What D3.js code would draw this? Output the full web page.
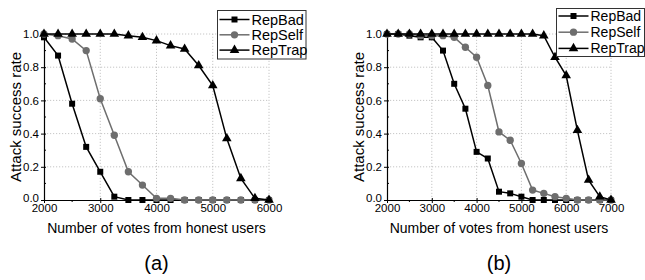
<!DOCTYPE html>
<html>
<head>
<meta charset="utf-8">
<script src="https://cdn.jsdelivr.net/npm/d3@7"></script>
<style>
  html, body { margin: 0; padding: 0; background: #fff; }
  svg { display: block; font-family: "Liberation Sans", Arial, sans-serif; }
</style>
</head>
<body>
<svg id="chart" width="645" height="280"></svg>
<script>
// ---------- data ----------
const seriesNames = ["RepBad", "RepSelf", "RepTrap"];

const votesA = [2000, 2250, 2500, 2750, 3000, 3250, 3500, 3750, 4000, 4250, 4500, 4750, 5000, 5250, 5500, 5750, 6000];
const repBadA  = [0.98, 0.87, 0.58, 0.32, 0.17, 0.02, 0, 0, 0, 0, 0, 0, 0, 0, 0, 0, 0];
const repSelfA = [1.00, 0.99, 0.97, 0.90, 0.61, 0.39, 0.17, 0.09, 0.01, 0.01, 0, 0, 0, 0, 0, 0, 0];
const repTrapA = [1.00, 1.00, 1.00, 1.00, 1.00, 1.00, 0.99, 0.98, 0.96, 0.93, 0.91, 0.81, 0.69, 0.37, 0.13, 0.01, 0.00];

const votesB = [2000, 2250, 2500, 2750, 3000, 3250, 3500, 3750, 4000, 4250, 4500, 4750, 5000, 5250, 5500, 5750, 6000, 6250, 6500, 6750, 7000];
const repBadB  = [1.00, 1.00, 0.99, 0.98, 0.98, 0.90, 0.70, 0.55, 0.29, 0.25, 0.05, 0.04, 0.02, 0, 0, 0, 0, 0, 0, 0, 0];
const repSelfB = [1.00, 1.00, 1.00, 0.99, 0.99, 0.99, 0.98, 0.92, 0.86, 0.69, 0.41, 0.36, 0.22, 0.06, 0.04, 0.02, 0.01, 0, 0, 0, 0];
const repTrapB = [1.00, 1.00, 1.00, 1.00, 1.00, 1.00, 1.00, 1.00, 1.00, 1.00, 1.00, 1.00, 1.00, 1.00, 0.99, 0.86, 0.75, 0.42, 0.12, 0.02, 0.00];

const xTicksA = [2000, 3000, 4000, 5000, 6000];
const xTicksB = [2000, 3000, 4000, 5000, 6000, 7000];
const yTicks = [0, 0.2, 0.4, 0.6, 0.8, 1.0];
const xLabel = "Number of votes from honest users";
const yLabel = "Attack success rate";
const panelLabels = ["(a)", "(b)"];

// ---------- styles ----------
const colors = { RepBad: "#000", RepSelf: "#6e6e6e", RepTrap: "#000" };
const markers = { RepBad: d3.symbolSquare, RepSelf: d3.symbolCircle, RepTrap: d3.symbolTriangle };
const markerSize = { RepBad: 36, RepSelf: 42, RepTrap: 40 };

const svg = d3.select("#chart");

function drawPanel(cfg) {
  const x = d3.scaleLinear().domain(cfg.xDomain).range([cfg.left, cfg.right]);
  const y = d3.scaleLinear().domain([0, 1]).range([cfg.bottom, cfg.top]);
  const g = svg.append("g");

  // grid
  const grid = g.append("g").attr("stroke", "#b8b8b8").attr("stroke-width", 0.8).attr("stroke-dasharray", "1.2,1.8");
  grid.selectAll(".gy").data(yTicks.filter(d => d > 0)).join("line")
    .attr("x1", cfg.left).attr("x2", cfg.right)
    .attr("y1", d => y(d)).attr("y2", d => y(d));
  grid.selectAll(".gx").data(cfg.xTicks.filter(d => d > cfg.xDomain[0])).join("line")
    .attr("x1", d => x(d)).attr("x2", d => x(d))
    .attr("y1", cfg.bottom).attr("y2", cfg.top);

  // minor ticks
  const minorY = d3.range(0.1, 1, 0.2);
  const minorX = cfg.xTicks.slice(0, -1).map(d => d + 500);

  // y axis
  const yAxis = g.append("g").attr("transform", `translate(${cfg.left},0)`)
    .call(d3.axisLeft(y).tickValues(yTicks).tickFormat(d3.format(".1f")).tickSizeInner(3).tickSizeOuter(0).tickPadding(2));
  yAxis.select(".domain").attr("stroke-width", 1.2);
  yAxis.selectAll(".tick line").attr("x2", -3).attr("x1", 2).attr("stroke-width", 1);
  yAxis.selectAll(".tick text").attr("font-size", 11.5).attr("fill", "#000")
    .attr("font-family", "Liberation Sans, Arial, sans-serif")
    .attr("dy", d => d === 0 ? "0.1em" : "0.32em");
  g.append("g").selectAll("line").data(minorY).join("line")
    .attr("x1", cfg.left).attr("x2", cfg.left + 2)
    .attr("y1", d => y(d)).attr("y2", d => y(d)).attr("stroke", "#000").attr("stroke-width", 1);

  // x axis
  const xAxis = g.append("g").attr("transform", `translate(0,${cfg.bottom})`)
    .call(d3.axisBottom(x).tickValues(cfg.xTicks).tickFormat(d3.format("d")).tickSizeInner(3).tickSizeOuter(0).tickPadding(1));
  xAxis.select(".domain").attr("stroke-width", 1.2);
  xAxis.selectAll(".tick line").attr("y1", -2).attr("y2", 3).attr("stroke-width", 1);
  xAxis.selectAll(".tick text").attr("font-size", 11.5).attr("fill", "#000")
    .attr("font-family", "Liberation Sans, Arial, sans-serif");
  g.append("g").selectAll("line").data(minorX).join("line")
    .attr("x1", d => x(d)).attr("x2", d => x(d))
    .attr("y1", cfg.bottom).attr("y2", cfg.bottom + 2).attr("stroke", "#000").attr("stroke-width", 1);

  // series
  const line = d3.line().x(d => x(d[0])).y(d => y(d[1]));
  seriesNames.forEach((name, i) => {
    const pts = cfg.xs.map((v, j) => [v, cfg.series[i][j]]);
    const sg = g.append("g");
    sg.append("path").datum(pts).attr("d", line)
      .attr("fill", "none").attr("stroke", colors[name]).attr("stroke-width", 1.5);
    sg.selectAll("path.m").data(pts).join("path").attr("class", "m")
      .attr("transform", d => `translate(${x(d[0])},${y(d[1])})`)
      .attr("d", d3.symbol().type(markers[name]).size(markerSize[name]))
      .attr("fill", colors[name]);
  });

  // axis titles
  g.append("text").attr("x", (cfg.left + cfg.right) / 2).attr("y", 233)
    .attr("text-anchor", "middle").attr("font-size", 14).attr("fill", "#000").text(xLabel);
  g.append("text").attr("transform", `translate(${cfg.left - 23},${(cfg.top + cfg.bottom) / 2}) rotate(-90)`)
    .attr("text-anchor", "middle").attr("font-size", 15).attr("fill", "#000").text(yLabel);
  g.append("text").attr("x", (cfg.left + cfg.right) / 2).attr("y", 270)
    .attr("text-anchor", "middle").attr("font-size", 20).attr("fill", "#000").text(cfg.label);

  // legend
  const lg = g.append("g");
  lg.append("rect").attr("x", cfg.legX).attr("y", cfg.legY).attr("width", cfg.legW).attr("height", cfg.legH)
    .attr("fill", "#fff").attr("stroke", "#333").attr("stroke-width", 1);
  seriesNames.forEach((name, i) => {
    const ry = cfg.legY + cfg.legRow0 + i * cfg.legStep;
    lg.append("line").attr("x1", cfg.legX + 2).attr("x2", cfg.legX + 32).attr("y1", ry).attr("y2", ry)
      .attr("stroke", colors[name]).attr("stroke-width", 1.5);
    lg.append("path").attr("transform", `translate(${cfg.legX + 17},${ry})`)
      .attr("d", d3.symbol().type(markers[name]).size(markerSize[name])).attr("fill", colors[name]);
    lg.append("text").attr("x", cfg.legX + 34).attr("y", ry + 5).attr("font-size", cfg.legFont).attr("fill", "#000").text(name);
  });
}

drawPanel({
  xDomain: [2000, 6000], xTicks: xTicksA, xs: votesA, series: [repBadA, repSelfA, repTrapA],
  left: 44, right: 269, top: 34, bottom: 200, label: panelLabels[0],
  legX: 217.5, legY: 10.5, legW: 88.5, legH: 48.5, legRow0: 9, legStep: 15.3, legFont: 14.5
});
drawPanel({
  xDomain: [2000, 7000], xTicks: xTicksB, xs: votesB, series: [repBadB, repSelfB, repTrapB],
  left: 387, right: 611, top: 34, bottom: 200, label: panelLabels[1],
  legX: 556.5, legY: 8.5, legW: 88, legH: 48, legRow0: 7.5, legStep: 16.2, legFont: 14
});
</script>
</body>
</html>
